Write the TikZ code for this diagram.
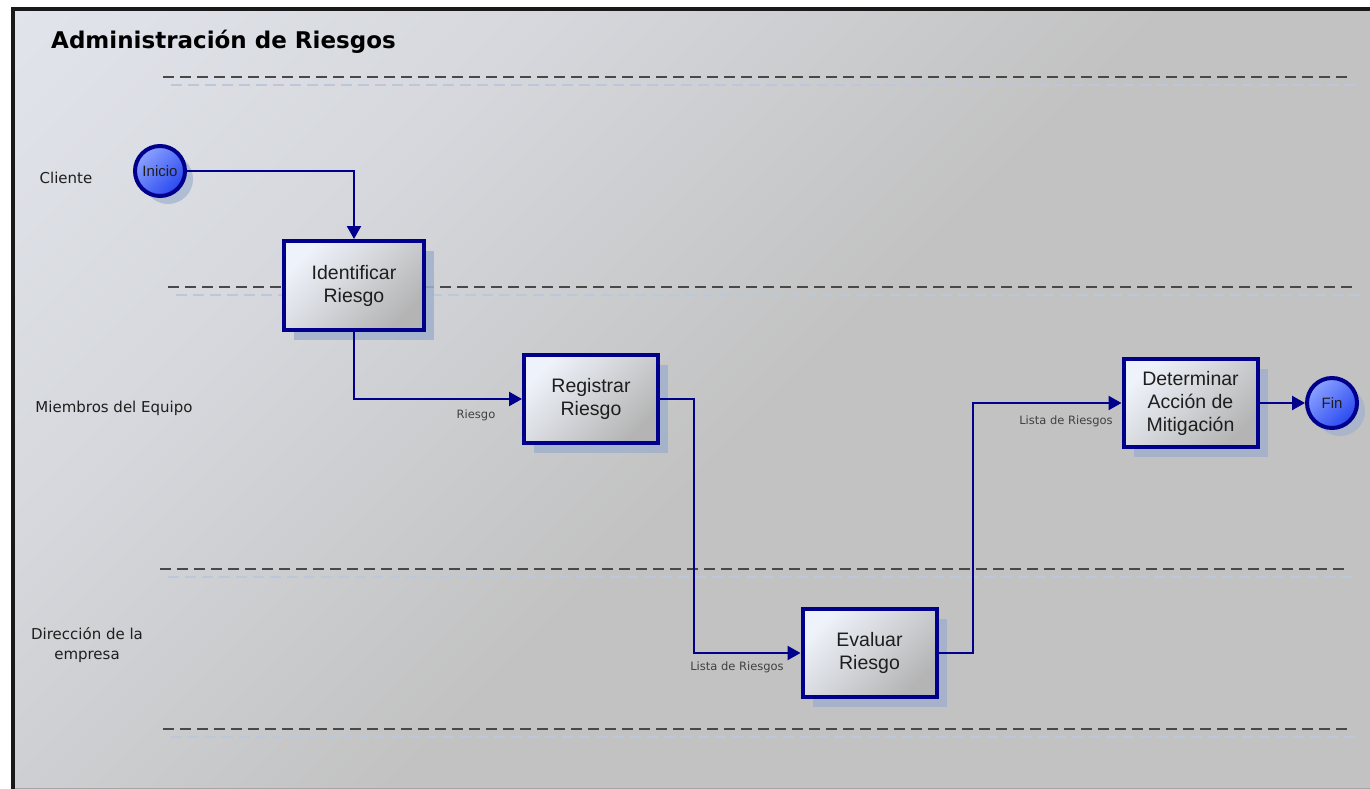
\documentclass[tikz,border=0pt]{standalone}
\usepackage{fontspec}
\setmainfont{Liberation Sans}
\newfontfamily\vfont{DejaVu Sans}
\usetikzlibrary{arrows.meta,shadows,calc}
\definecolor{navyc}{RGB}{0,0,140}
\definecolor{bgA}{RGB}{234,238,246}
\definecolor{bgM}{RGB}{214,216,221}
\definecolor{bgB}{RGB}{194,194,194}
\definecolor{boxA}{RGB}{238,242,250}
\definecolor{boxB}{RGB}{180,180,180}
\definecolor{ballA}{RGB}{140,162,255}
\definecolor{ballB}{RGB}{40,72,240}
\definecolor{shadc}{RGB}{160,176,204}
\definecolor{sepc}{RGB}{72,72,72}
\definecolor{sepsh}{RGB}{188,200,218}
\definecolor{txtc}{RGB}{30,30,30}
\pgfdeclareverticalshading{bgshade}{100bp}{color(0bp)=(bgB); color(47bp)=(bgB); color(68bp)=(bgM); color(100bp)=(bgA)}
\begin{document}
\begin{tikzpicture}[x=1pt,y=-1pt,
  proc/.style={draw=navyc, line width=4pt, rectangle, inner sep=0pt,
    top color=boxA, bottom color=boxB, shading angle=45,
    drop shadow={shadow xshift=10pt, shadow yshift=-10pt, fill=shadc, opacity=0.85},
    align=center, font=\fontsize{19.5}{23}\selectfont, text=txtc},
  evt/.style={draw=navyc, line width=4pt, circle, inner sep=0pt, minimum size=50pt,
    top color=ballA, bottom color=ballB, shading angle=45,
    drop shadow={shadow xshift=8pt, shadow yshift=-8pt, fill=shadc, opacity=0.7},
    font=\fontsize{15}{18}\selectfont, text=txtc},
  conn/.style={draw=navyc, line width=2.3pt, -{Triangle[length=13pt,width=14pt]}},
  lane/.style={font=\vfont\fontsize{15}{19.5}\selectfont, text=txtc, align=center, inner sep=0pt},
  lbl/.style={font=\vfont\fontsize{11.5}{14}\selectfont, text=txtc!85, inner sep=0pt},
  sep/.style={draw=sepc, line width=2pt, dash pattern=on 11pt off 6pt},
  sepshadow/.style={draw=sepsh, line width=1.5pt, dash pattern=on 11pt off 6pt}
]
\useasboundingbox (0,0) rectangle (1370,789);
\fill[white] (0,0) rectangle (1370,789);
\shade[shading=bgshade, shading angle=45] (12,8) rectangle (1370,789);
\draw[gray!70, line width=1pt] (12,788) -- (1370,788);
\draw[black!90, line width=4pt] (13,789) -- (13,9) -- (1370,9);

% title
\node[anchor=west, inner sep=0pt, font=\vfont\bfseries\fontsize{23}{27}\selectfont] (title) at (51,42) {Administración de Riesgos};

% lane separators
\foreach \yy/\xa/\xb in {77/163/1350, 287/168/1358, 569/160/1350, 729/163/1350}{
  \draw[sepshadow] (\xa+8,\yy+8) -- (\xb+8,\yy+8);
  \draw[sep] (\xa,\yy) -- (\xb,\yy);
}

% lane labels
\node[lane] (lcli) at (66,178) {Cliente};
\node[lane] (lmie) at (114,408) {Miembros del Equipo};
\node[lane] (ldir) at (87,645) {Dirección de la\\empresa};

% nodes
\node[evt] (inicio) at (160,171) {Inicio};
\node[proc, minimum width=140pt, minimum height=89pt] (ident) at (354,285.5) {Identificar\\Riesgo};
\node[proc, minimum width=134pt, minimum height=88pt] (regis) at (591,399) {Registrar\\Riesgo};
\node[proc, minimum width=134pt, minimum height=88pt] (evalr) at (869.5,653) {Evaluar\\Riesgo};
\node[proc, minimum width=134pt, minimum height=88pt] (deter) at (1190.5,403) {Determinar\\Acción de\\Mitigación};
\node[evt] (fin) at (1332,403) {Fin};

\coordinate (k1) at (694,0);
\coordinate (k2) at (973,0);

% connectors
\draw[conn] (inicio) -| (ident);
\draw[conn] (ident) |- (regis);
\draw[conn] (regis.east) -- (regis.east -| k1) |- (evalr.west);
\draw[conn] (evalr.east) -- (evalr.east -| k2) |- (deter.west);
\draw[conn] (deter) -- (fin);

% connector labels
\node[lbl] (l1) at (476,415) {Riesgo};
\node[lbl] (l2) at (737,667) {Lista de Riesgos};
\node[lbl] (l3) at (1066,421) {Lista de Riesgos};
\end{tikzpicture}
\end{document}
